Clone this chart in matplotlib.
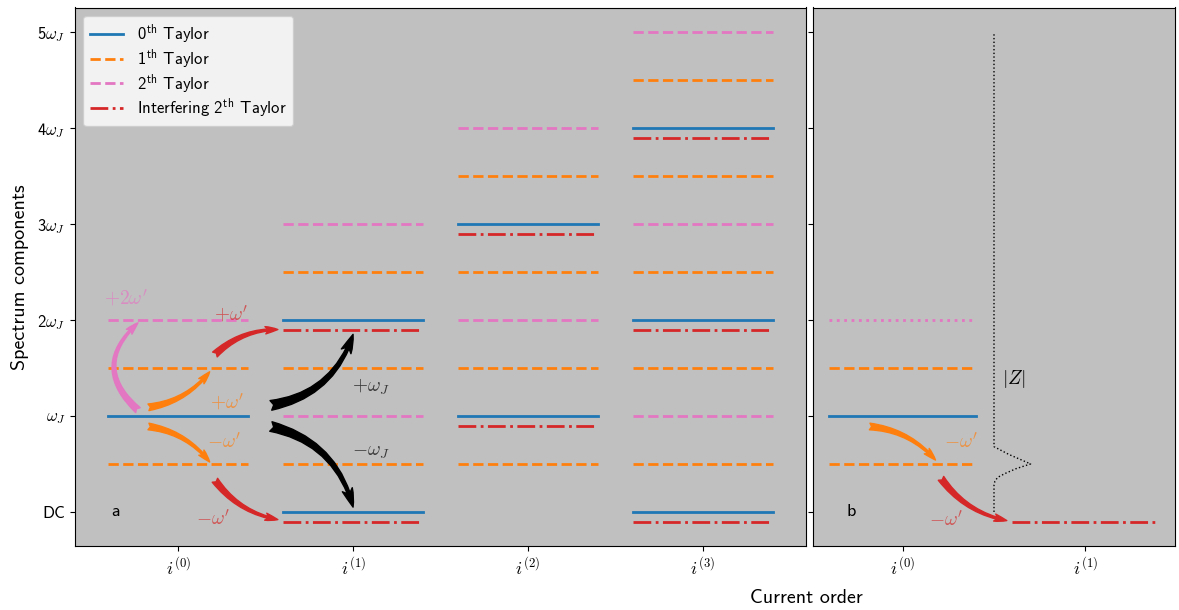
import matplotlib
matplotlib.use("Agg")
import matplotlib.pyplot as plt

plt.rcParams['font.family'] = ['cmss10', 'DejaVu Sans']
plt.rcParams['mathtext.fontset'] = 'cm'
plt.rcParams['axes.unicode_minus'] = False
plt.rcParams['font.size'] = 12

# levels of the panel a: (current order, spectrum component)
t0_x = [0, 1, 1, 2, 2, 3, 3, 3]
t0_y = [1, 0, 2, 1, 3, 0, 2, 4]
t1_x = [0, 0, 1, 1, 1, 2, 2, 2, 2, 3, 3, 3, 3, 3]
t1_y = [0.5, 1.5, 0.5, 1.5, 2.5, 0.5, 1.5, 2.5, 3.5, 0.5, 1.5, 2.5, 3.5, 4.5]
t2_x = [0, 1, 1, 2, 2, 3, 3, 3]
t2_y = [2, 1, 3, 2, 4, 1, 3, 5]
int_x = [1, 1, 2, 2, 3, 3, 3]
int_y = [-0.1, 1.9, 0.9, 2.9, -0.1, 1.9, 3.9]

# panel b
b_t0_x, b_t0_y = [0], [1]
b_t1_x, b_t1_y = [0, 0], [0.5, 1.5]
b_t2_x, b_t2_y = [0], [2]
b_int_x, b_int_y = [1], [-0.1]

# |Z| sketch
z_y = [0, 0.28, 0.32, 0.36, 0.40, 0.45, 0.50, 0.55, 0.60, 0.64, 0.68, 5]
z_x = [0.5, 0.5, 0.505, 0.52, 0.56, 0.62, 0.70, 0.64, 0.58, 0.54, 0.5, 0.5]

left_ticks = [r'$i^{(0)}$', r'$i^{(1)}$', r'$i^{(2)}$', r'$i^{(3)}$']
right_ticks = [r'$i^{(0)}$', r'$i^{(1)}$']
y_ticks = ['DC', r'$\omega_J$', r'2$\omega_J$', r'3$\omega_J$', r'4$\omega_J$', r'5$\omega_J$']

blue, orange, pink, red = 'tab:blue', 'tab:orange', 'tab:pink', 'tab:red'
hw = 0.4
lw = 2

fig = plt.figure(figsize=(11.79, 6.10), dpi=100)
ax = fig.add_axes([75/1179, 1-546/610, 731/1179, 538.5/610])
bx = fig.add_axes([813/1179, 1-546/610, 362/1179, 538.5/610], sharey=ax)
for a in (ax, bx):
    a.set_facecolor('silver')


def levels(a, xs, ys, color, ls, label=None):
    for k, (x, y) in enumerate(zip(xs, ys)):
        a.plot([x - hw, x + hw], [y, y], color=color, ls=ls, lw=lw,
               label=label if k == 0 else None)


levels(ax, t0_x, t0_y, blue, '-', r'0$^{\mathsf{th}}$ Taylor')
levels(ax, t1_x, t1_y, orange, '--', r'1$^{\mathsf{th}}$ Taylor')
levels(ax, t2_x, t2_y, pink, '--', r'2$^{\mathsf{th}}$ Taylor')
levels(ax, int_x, int_y, red, '-.', r'Interfering 2$^{\mathsf{th}}$ Taylor')

levels(bx, b_t0_x, b_t0_y, blue, '-')
levels(bx, b_t1_x, b_t1_y, orange, '--')
levels(bx, b_t2_x, b_t2_y, pink, ':')
levels(bx, b_int_x, b_int_y, red, '-.')
bx.plot(z_x, z_y, color='black', ls=':', lw=1)


def arrow(a, start, end, color, rad, scale=15):
    a.annotate('', xy=end, xytext=start,
               arrowprops=dict(arrowstyle='fancy,head_length=0.6,head_width=0.35,tail_width=0.32',
                               connectionstyle='arc3,rad=%s' % rad,
                               color=color, mutation_scale=scale,
                               shrinkA=0, shrinkB=0))


def label(a, x, y, s, color, size=14):
    a.text(x, y, s, color=color, alpha=0.7, fontsize=size, ha='center', va='center')


# panel a arrows
arrow(ax, (-0.23, 1.06), (-0.23, 1.97), pink, -0.55)
arrow(ax, (-0.17, 1.09), (0.18, 1.46), orange, 0.2)
arrow(ax, (-0.17, 0.89), (0.18, 0.52), orange, -0.2)
arrow(ax, (0.21, 1.64), (0.57, 1.9), red, -0.2)
arrow(ax, (0.21, 0.33), (0.57, -0.08), red, 0.2)
arrow(ax, (0.53, 1.11), (1.0, 1.85), 'black', 0.3, scale=22)
arrow(ax, (0.53, 0.89), (1.0, 0.05), 'black', -0.3, scale=22)

label(ax, -0.30, 2.23, r"$+2\omega'$", pink)
label(ax, 0.30, 2.06, r"$+\omega'$", red)
label(ax, 0.28, 1.15, r"$+\omega'$", orange)
label(ax, 0.26, 0.73, r"$-\omega'$", orange)
label(ax, 0.20, -0.07, r"$-\omega'$", red)
label(ax, 1.10, 1.30, r"$+\omega_J$", 'black')
label(ax, 1.10, 0.62, r"$-\omega_J$", 'black')
ax.text(-0.36, 0, 'a', fontsize=13, ha='center', va='center')

# panel b arrows
arrow(bx, (-0.18, 0.89), (0.18, 0.54), orange, -0.2)
arrow(bx, (0.21, 0.35), (0.57, -0.09), red, 0.2)
label(bx, 0.32, 0.73, r"$-\omega'$", orange)
label(bx, 0.24, -0.08, r"$-\omega'$", red)
bx.text(0.61, 1.38, r'$|Z|$', fontsize=14, ha='center', va='center')
bx.text(-0.28, 0, 'b', fontsize=13, ha='center', va='center')

ax.set_xticks(range(len(left_ticks)))
ax.set_xticklabels(left_ticks, fontsize=13)
bx.set_xticks(range(len(right_ticks)))
bx.set_xticklabels(right_ticks, fontsize=13)
ax.set_yticks(range(len(y_ticks)))
ax.set_yticklabels(y_ticks, fontsize=12)
bx.tick_params(labelleft=False)

ax.set_ylabel('Spectrum components', fontsize=14.4, labelpad=6)
fig.text(806/1179, 1-598/610, 'Current order', fontsize=14.4, ha='center', va='center')
ax.legend(loc='upper left', fontsize=12, labelspacing=0.1)

fig.savefig('out.png', dpi=100)
